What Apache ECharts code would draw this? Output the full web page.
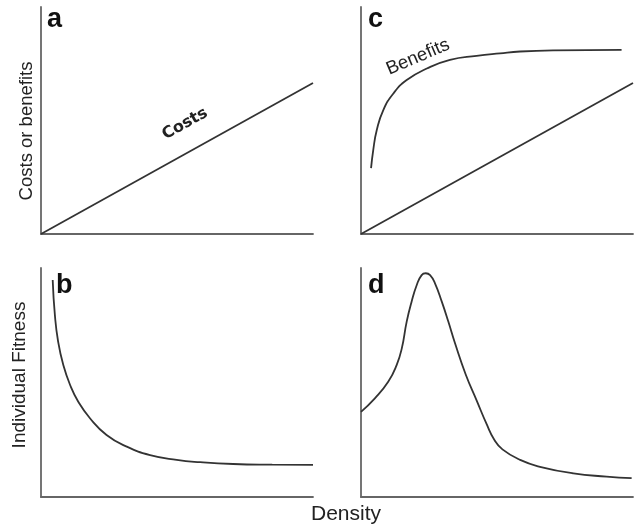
<!DOCTYPE html>
<html><head><meta charset="utf-8">
<script src="https://cdn.jsdelivr.net/npm/echarts@6/dist/echarts.min.js"></script>
<style>html,body{margin:0;padding:0;background:#fff}#c{width:634px;height:527px}</style>
</head><body><div id="c"></div>
<script>
// Panel a: costs (linear)
const costsA = [[0, 0], [100, 66.5]];
// Panel c: benefits (saturating) and costs (linear)
const benefitsC = [[3.7,29.0],[4.5,37.0],[5.8,45.8],[8.2,54.6],[11.9,61.9],[16.8,67.8],[24.2,72.9],[32.7,76.7],[42.5,78.5],[51.1,79.6],[58.5,80.4],[70.7,80.9],[95.8,81.1]];
const costsC = [[0, 0], [100, 66.5]];
// Panel b: fitness decreasing with density
const fitnessB = [[4.3,94.8],[5.1,79.5],[6.3,67.8],[8.2,57.6],[10.7,48.9],[13.7,41.6],[18.0,34.4],[24.1,27.1],[31.5,22.0],[40.1,18.3],[49.9,16.2],[58.5,15.2],[70.7,14.4],[85,14.1],[100,14.0]];
// Panel d: humped fitness
const fitnessD = [[0,37.2],[5.1,43.1],[10.0,50.3],[13.1,57.6],[15.0,64.9],[16.8,76.6],[18.6,85.3],[20.5,92.6],[22.3,96.9],[23.8,97.7],[25.4,96.9],[27.2,93.3],[29.7,85.3],[32.1,76.6],[34.6,67.0],[38.5,53.5],[42.5,42.2],[46.2,31.8],[49.0,25.0],[52.0,20.8],[58.5,16.2],[65.8,13.2],[78.1,10.3],[90.3,8.9],[99.5,8.2]];
const panelLetters = ['a', 'b', 'c', 'd'];
const yLabels = ['Costs or benefits', 'Individual Fitness'];
const xLabel = 'Density';
const curveLabels = ['Costs', 'Benefits'];

const chart = echarts.init(document.getElementById('c'));
const grids = [
  {left: 41, top: 7, width: 272, height: 227},
  {left: 41, top: 268, width: 272, height: 229},
  {left: 361, top: 7, width: 272, height: 227},
  {left: 361, top: 268, width: 272, height: 229}
];
const axisLine = {show: true, lineStyle: {color: '#666', width: 1.8}};
const xAxes = grids.map((g, i) => ({type: 'value', gridIndex: i, min: 0, max: 100, axisLine: axisLine, axisTick: {show: false}, axisLabel: {show: false}, splitLine: {show: false}}));
const yAxes = grids.map((g, i) => ({type: 'value', gridIndex: i, min: 0, max: 100, axisLine: axisLine, axisTick: {show: false}, axisLabel: {show: false}, splitLine: {show: false}}));
const lineSty = {color: '#333', width: 1.8};
function s(data, idx, smooth) {
  return {type: 'line', xAxisIndex: idx, yAxisIndex: idx, data: data, smooth: smooth, showSymbol: false, symbol: 'none', lineStyle: lineSty, silent: true};
}
const txt = '#222';
chart.setOption({
  animation: false,
  grid: grids,
  xAxis: xAxes,
  yAxis: yAxes,
  series: [
    s(costsA, 0, false),
    s(fitnessB, 1, 0.5),
    s(benefitsC, 2, 0.5),
    s(costsC, 2, false),
    s(fitnessD, 3, 0.5)
  ],
  graphic: [
    {type: 'text', left: 47, top: 6, style: {text: panelLetters[0], font: 'bold 27px "Liberation Sans", Arial', fill: '#111'}},
    {type: 'text', left: 56, top: 272, style: {text: panelLetters[1], font: 'bold 27px "Liberation Sans", Arial', fill: '#111'}},
    {type: 'text', left: 368, top: 6, style: {text: panelLetters[2], font: 'bold 27px "Liberation Sans", Arial', fill: '#111'}},
    {type: 'text', left: 368, top: 272, style: {text: panelLetters[3], font: 'bold 27px "Liberation Sans", Arial', fill: '#111'}},
    {type: 'text', x: 27, y: 131, rotation: Math.PI / 2, style: {text: yLabels[0], font: '18.5px "Liberation Sans", Arial', fill: txt, align: 'center', verticalAlign: 'middle'}},
    {type: 'text', x: 20, y: 375, rotation: Math.PI / 2, style: {text: yLabels[1], font: '19px "Liberation Sans", Arial', fill: txt, align: 'center', verticalAlign: 'middle'}},
    {type: 'text', x: 346, y: 514, style: {text: xLabel, font: '21px "Liberation Sans", Arial', fill: txt, align: 'center', verticalAlign: 'middle'}},
    {type: 'text', x: 185, y: 124, rotation: 29 * Math.PI / 180, style: {text: curveLabels[0], font: 'bold 16px "DejaVu Sans", sans-serif', fill: txt, align: 'center', verticalAlign: 'middle'}},
    {type: 'text', x: 418, y: 57, rotation: 23 * Math.PI / 180, style: {text: curveLabels[1], font: '18.5px "Liberation Sans", Arial', fill: txt, align: 'center', verticalAlign: 'middle'}}
  ]
});
</script></body></html>
